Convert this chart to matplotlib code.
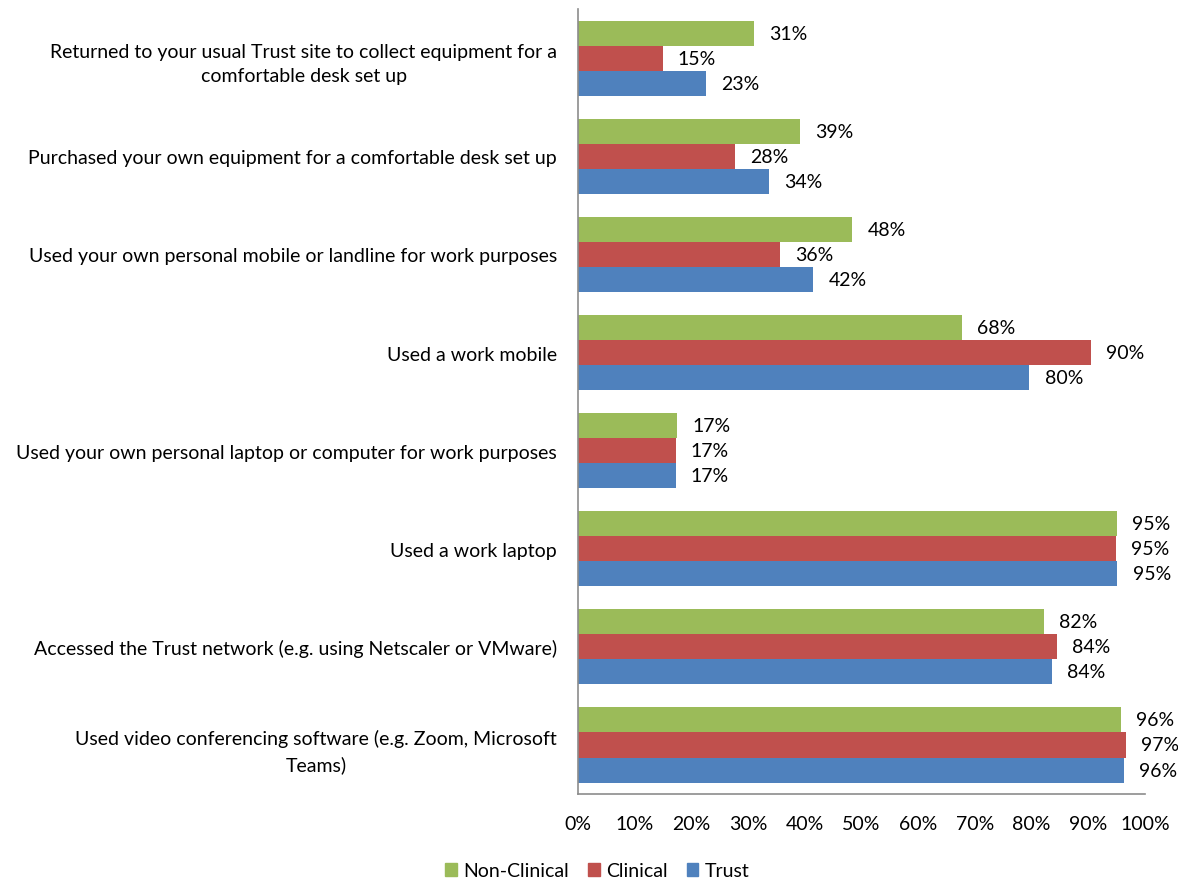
import numpy as np
import matplotlib.pyplot as plt
from matplotlib.patches import Patch

plt.rcParams['font.family'] = ['Lato', 'DejaVu Sans']

categories = [
    'Returned to your usual Trust site to collect equipment for a\ncomfortable desk set up',
    'Purchased your own equipment for a comfortable desk set up',
    'Used your own personal mobile or landline for work purposes',
    'Used a work mobile',
    'Used your own personal laptop or computer for work purposes',
    'Used a work laptop',
    'Accessed the Trust network (e.g. using Netscaler or VMware)',
    'Used video conferencing software (e.g. Zoom, Microsoft\nTeams)',
]
non_clinical = [31.0, 39.2, 48.4, 67.7, 17.4, 95.0, 82.1, 95.7]
clinical = [14.9, 27.7, 35.6, 90.4, 17.2, 94.9, 84.4, 96.6]
trust = [22.6, 33.7, 41.5, 79.6, 17.2, 95.1, 83.6, 96.3]
series_names = ['Non-Clinical', 'Clinical', 'Trust']
colors = ['#9BBB59', '#C0504D', '#4F81BD']

fig = plt.figure(figsize=(11.78, 8.79), dpi=100)
ax = fig.add_axes([0.4907, 0.0955, 0.4813, 0.893])

y = np.arange(len(categories))
h = 0.255
offsets = [-h, 0, h]
for vals, off, col in zip([non_clinical, clinical, trust], offsets, colors):
    bars = ax.barh(y + off, vals, height=h, color=col, edgecolor='none')
    for b, v in zip(bars, vals):
        ax.annotate('%d%%' % round(v), (v, b.get_y() + b.get_height() / 2),
                    xytext=(11, 0), textcoords='offset points',
                    ha='left', va='center', fontsize=14)

ax.set_xlim(0, 100)
ax.set_ylim(len(categories) - 0.5, -0.5)
ax.set_xticks(np.arange(0, 101, 10))
ax.set_xticklabels(['%d%%' % t for t in range(0, 101, 10)], fontsize=14)
ax.set_yticks(y)
ax.set_yticklabels(categories, fontsize=14, multialignment='center')
for lbl in ax.get_yticklabels():
    lbl.set_linespacing(1.55)
ax.tick_params(axis='both', length=0)
ax.tick_params(axis='y', pad=15)
ax.tick_params(axis='x', pad=15)
for s in ['top', 'right']:
    ax.spines[s].set_visible(False)
for s in ['left', 'bottom']:
    ax.spines[s].set_color('#8c8c8c')
    ax.spines[s].set_linewidth(1.2)

handles = [Patch(color=c, label=n) for c, n in zip(colors, series_names)]
fig.legend(handles=handles, loc='center', bbox_to_anchor=(0.507, 0.008),
           ncol=3, frameon=False, fontsize=14, handlelength=0.6,
           handleheight=0.6, handletextpad=0.3, columnspacing=1.0)

fig.savefig('out.png', dpi=100)
